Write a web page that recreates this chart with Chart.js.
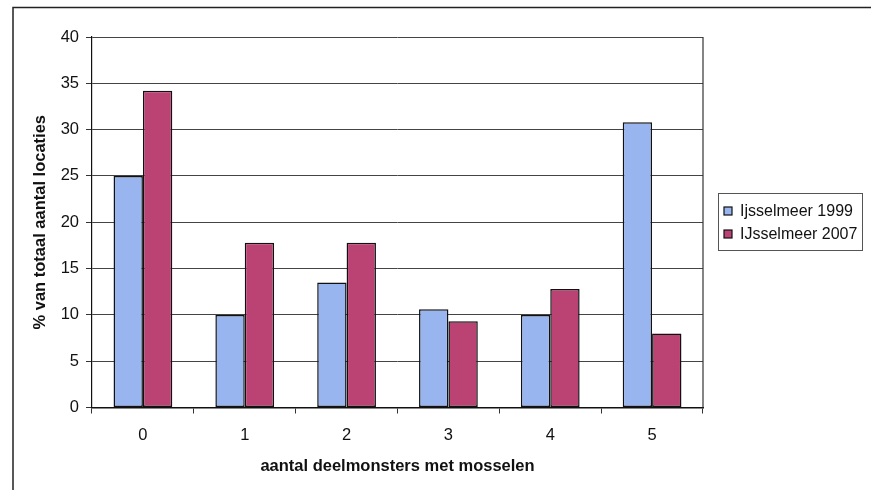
<!DOCTYPE html>
<html>
<head>
<meta charset="utf-8">
<script src="https://cdn.jsdelivr.net/npm/chart.js@4/dist/chart.umd.min.js"></script>
<style>
  html, body { margin: 0; padding: 0; background: #fff; }
  #wrap { position: relative; width: 871px; height: 490px; }
</style>
</head>
<body>
<div id="wrap"><canvas id="c" width="871" height="490"></canvas></div>
<script>
// Aantal deelmonsters met mosselen per locatie, IJsselmeer 1999 vs 2007
const categories = ['0', '1', '2', '3', '4', '5'];
const series1999 = [25.0, 10.0, 13.5, 10.6, 10.0, 30.8];
const series2007 = [34.2, 17.8, 17.8, 9.3, 12.8, 8.0];
const seriesLabels = ['Ijsselmeer 1999', 'IJsselmeer 2007'];
const yTicks = [0, 5, 10, 15, 20, 25, 30, 35, 40];

const FONT = 'Liberation Sans, Arial, sans-serif';
const FS = 16.5;
const BLUE = '#98b5f0';
const RED = '#ba4373';

// Outer frame, right edge of the plot area and the boxed legend
const decorations = {
  id: 'decorations',
  afterDraw(chart) {
    const ctx = chart.ctx;
    const area = chart.chartArea;
    ctx.save();
    ctx.strokeStyle = '#222';
    ctx.lineWidth = 1.5;
    ctx.beginPath();
    ctx.moveTo(13, 490);
    ctx.lineTo(13, 7.5);
    ctx.lineTo(871, 7.5);
    ctx.stroke();

    ctx.lineWidth = 1.2;
    ctx.strokeStyle = '#333';
    ctx.beginPath();
    ctx.moveTo(area.right, area.top);
    ctx.lineTo(area.right, area.bottom);
    ctx.stroke();

    // legend
    const lx = 718.5, ly = 193.5, lw = 144, lh = 57;
    ctx.lineWidth = 1;
    ctx.strokeStyle = '#555';
    ctx.strokeRect(lx, ly, lw, lh);
    ctx.font = '16px ' + FONT;
    ctx.textBaseline = 'middle';
    chart.data.datasets.forEach((ds, i) => {
      const cy = 211 + i * 23;
      ctx.fillStyle = ds.backgroundColor;
      ctx.fillRect(724, cy - 4, 8, 8);
      ctx.strokeStyle = '#111';
      ctx.lineWidth = 1.2;
      ctx.strokeRect(724, cy - 4, 8, 8);
      ctx.fillStyle = '#111';
      ctx.fillText(ds.label, 740, cy + 1);
    });
    ctx.restore();
  }
};

new Chart(document.getElementById('c'), {
  type: 'bar',
  data: {
    labels: categories,
    datasets: [
      { label: seriesLabels[0], data: series1999, backgroundColor: BLUE,
        borderColor: '#111', borderWidth: 1.5, borderSkipped: false },
      { label: seriesLabels[1], data: series2007, backgroundColor: RED,
        borderColor: '#111', borderWidth: 1.5, borderSkipped: false }
    ]
  },
  options: {
    responsive: false,
    animation: false,
    devicePixelRatio: 1,
    layout: { padding: { left: 0, top: 37, right: 168, bottom: 0 } },
    datasets: { bar: { categoryPercentage: 0.577, barPercentage: 1.0 } },
    plugins: {
      legend: { display: false },
      tooltip: { enabled: false }
    },
    scales: {
      x: {
        offset: true,
        grid: { offset: true, drawOnChartArea: false, drawTicks: true,
                tickLength: 6, color: '#333', lineWidth: 1 },
        border: { display: true, color: '#111', width: 1.5 },
        ticks: { color: '#111', font: { family: FONT, size: FS }, padding: 12,
                 maxRotation: 0 },
        title: {
          display: true,
          text: 'aantal deelmonsters met mosselen',
          color: '#111',
          font: { family: FONT, size: FS, weight: 'bold' },
          padding: { top: 0, bottom: 14 }
        },
        afterFit(scale) { scale.height = 82.5; }
      },
      y: {
        min: 0,
        max: 40,
        afterBuildTicks(scale) { scale.ticks = yTicks.map(v => ({ value: v })); },
        grid: { color: '#444', lineWidth: 1, tickLength: 6, tickColor: '#333' },
        border: { display: true, color: '#111', width: 1.2 },
        ticks: { color: '#111', font: { family: FONT, size: FS }, padding: 7 },
        title: {
          display: true,
          text: '% van totaal aantal locaties',
          color: '#111',
          font: { family: FONT, size: FS, weight: 'bold' },
          padding: { top: 31, bottom: 0 }
        },
        afterFit(scale) { scale.width = 92; }
      }
    }
  },
  plugins: [decorations]
});
</script>
</body>
</html>
